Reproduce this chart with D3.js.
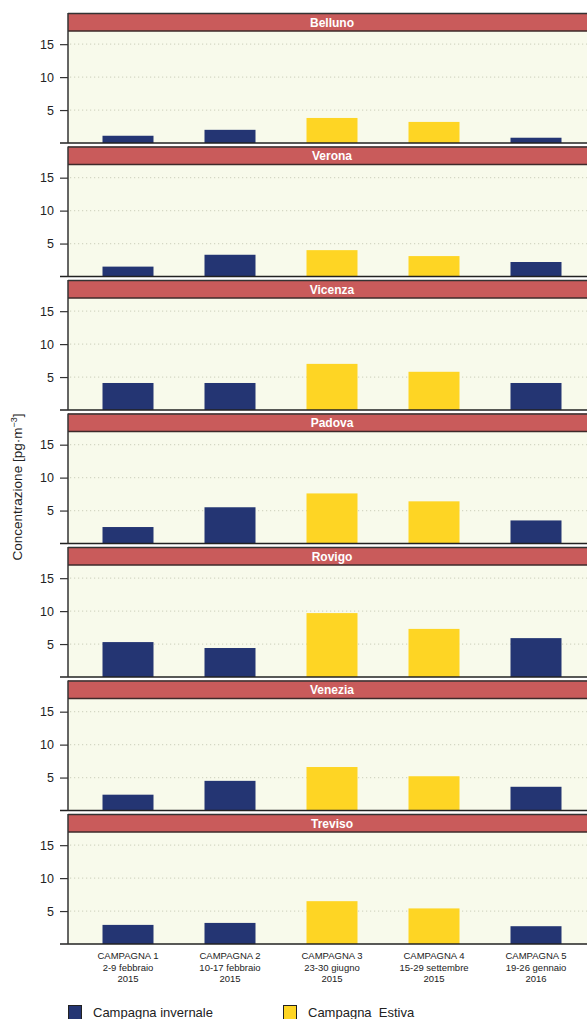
<!DOCTYPE html>
<html>
<head>
<meta charset="utf-8">
<script src="https://cdn.jsdelivr.net/npm/d3@7"></script>
<style>
  html, body { margin: 0; padding: 0; background: #ffffff; }
  svg { display: block; font-family: "Liberation Sans", Arial, Helvetica, sans-serif; }
</style>
</head>
<body>
<svg id="chart" width="587" height="1019"></svg>
<script>
// Stations (one facet each, top to bottom)
const stations = ["Belluno", "Verona", "Vicenza", "Padova", "Rovigo", "Venezia", "Treviso"];

// Sampling campaigns (x categories, three label lines each)
const campaignNames = ["CAMPAGNA 1", "CAMPAGNA 2", "CAMPAGNA 3", "CAMPAGNA 4", "CAMPAGNA 5"];
const campaignDates = ["2-9 febbraio", "10-17 febbraio", "23-30 giugno", "15-29 settembre", "19-26 gennaio"];
const campaignYears = ["2015", "2015", "2015", "2015", "2016"];
const campaignSeason = ["invernale", "invernale", "estiva", "estiva", "invernale"];

// Concentrations [pg·m-3] per station, one value per campaign
const belluno = [1.1, 2.0, 3.8, 3.2, 0.8];
const verona  = [1.5, 3.3, 4.0, 3.1, 2.2];
const vicenza = [4.1, 4.1, 7.0, 5.8, 4.1];
const padova  = [2.5, 5.5, 7.6, 6.4, 3.5];
const rovigo  = [5.3, 4.4, 9.7, 7.3, 5.9];
const venezia = [2.4, 4.5, 6.6, 5.2, 3.6];
const treviso = [2.9, 3.2, 6.5, 5.4, 2.7];
const seriesValues = [belluno, verona, vicenza, padova, rovigo, venezia, treviso];

// Y axis ticks
const yTicks = [5, 10, 15];

// Legend entries
const legendLabels = ["Campagna invernale", "Campagna  Estiva"];
const legendSeasons = ["invernale", "estiva"];

const colors = {
  invernale: "#243573",
  estiva: "#fed524",
  strip: "#c95b5b",
  panel: "#f8faeb",
  grid: "#d4d7c4"
};

const svg = d3.select("#chart");

const left = 68, right = 600;
const top0 = 13, pitch = 133.5, stripH = 18, plotH = 112;

const x = d3.scaleBand()
  .domain(d3.range(campaignNames.length))
  .range([77, 587])
  .paddingInner(0.5)
  .paddingOuter(0.25);

const y = d3.scaleLinear().domain([0, 17]).range([plotH, 0]);

stations.forEach((name, i) => {
  const g = svg.append("g").attr("transform", `translate(0,${top0 + i * pitch})`);
  const plot = g.append("g").attr("transform", `translate(0,${stripH})`);

  // panel background
  plot.append("rect")
    .attr("x", left).attr("y", 0)
    .attr("width", right - left).attr("height", plotH)
    .attr("fill", colors.panel);

  // dotted horizontal grid
  plot.selectAll("line.grid")
    .data(yTicks)
    .join("line")
    .attr("class", "grid")
    .attr("x1", left + 2).attr("x2", right)
    .attr("y1", d => y(d)).attr("y2", d => y(d))
    .attr("stroke", colors.grid)
    .attr("stroke-width", 1.2)
    .attr("stroke-dasharray", "1.2,2.8");

  // bars
  plot.selectAll("rect.bar")
    .data(seriesValues[i])
    .join("rect")
    .attr("class", "bar")
    .attr("x", (d, j) => x(j))
    .attr("width", x.bandwidth())
    .attr("y", d => y(d))
    .attr("height", d => y(0) - y(d))
    .attr("fill", (d, j) => colors[campaignSeason[j]]);

  // y axis
  const yAxis = plot.append("g")
    .attr("transform", `translate(${left},0)`)
    .call(d3.axisLeft(y).tickValues(yTicks).tickSize(8).tickPadding(6));
  yAxis.select(".domain").remove();
  yAxis.selectAll(".tick line").attr("stroke", "#333").attr("stroke-width", 1.2);
  yAxis.selectAll(".tick text")
    .attr("fill", "#222")
    .style("font-size", "12.5px")
    .style("font-family", "'Liberation Sans', Arial, sans-serif");

  // baseline
  plot.append("line")
    .attr("x1", 60).attr("x2", right)
    .attr("y1", y(0)).attr("y2", y(0))
    .attr("stroke", "#222")
    .attr("stroke-width", 1.5);

  // strip header
  g.append("rect")
    .attr("x", left).attr("y", 0)
    .attr("width", right - left).attr("height", stripH)
    .attr("fill", colors.strip);
  g.append("line")
    .attr("x1", left).attr("x2", right)
    .attr("y1", 0.5).attr("y2", 0.5)
    .attr("stroke", "#333").attr("stroke-width", 1.5);
  g.append("line")
    .attr("x1", left).attr("x2", right)
    .attr("y1", stripH).attr("y2", stripH)
    .attr("stroke", "#3e2a2a").attr("stroke-width", 1.5);
  g.append("text")
    .attr("x", 332).attr("y", stripH / 2 + 4.5)
    .attr("text-anchor", "middle")
    .attr("fill", "#ffffff")
    .style("font-weight", "bold")
    .style("font-size", "12px")
    .text(name);

  // left border
  g.append("line")
    .attr("x1", left).attr("x2", left)
    .attr("y1", 0).attr("y2", stripH + plotH)
    .attr("stroke", "#333").attr("stroke-width", 1.5);

  // campaign labels under the last panel
  if (i === stations.length - 1) {
    const xAxis = plot.append("g")
      .attr("transform", `translate(0,${plotH})`)
      .call(d3.axisBottom(x).tickSize(0).tickPadding(0).tickFormat(""));
    xAxis.select(".domain").remove();
    xAxis.selectAll(".tick text").each(function(d) {
      const t = d3.select(this)
        .attr("y", 0)
        .attr("dy", null)
        .attr("fill", "#222")
        .style("font-size", "9.5px")
        .style("font-family", "'Liberation Sans', Arial, sans-serif");
      [campaignNames[d], campaignDates[d], campaignYears[d]].forEach((line, k) => {
        t.append("tspan").attr("x", 0).attr("y", 15 + k * 11.5).text(line);
      });
    });
  }
});

// y axis title
svg.append("text")
  .attr("transform", "translate(22,487) rotate(-90)")
  .attr("text-anchor", "middle")
  .attr("fill", "#222")
  .style("font-size", "13.5px")
  .call(t => {
    t.append("tspan").text("Concentrazione [pg·m");
    t.append("tspan").attr("dy", -5).style("font-size", "9px").text("−3");
    t.append("tspan").attr("dy", 5).text("]");
  });

// legend
const legendX = [68, 283];
legendLabels.forEach((label, k) => {
  svg.append("rect")
    .attr("x", legendX[k] + 0.5).attr("y", 1005.5)
    .attr("width", 13).attr("height", 14)
    .attr("fill", colors[legendSeasons[k]])
    .attr("stroke", "#222").attr("stroke-width", 1);
  svg.append("text")
    .attr("x", legendX[k] + 25).attr("y", 1017)
    .attr("fill", "#222")
    .style("font-size", "13px")
    .style("white-space", "pre")
    .attr("xml:space", "preserve")
    .text(label);
});
</script>
</body>
</html>
